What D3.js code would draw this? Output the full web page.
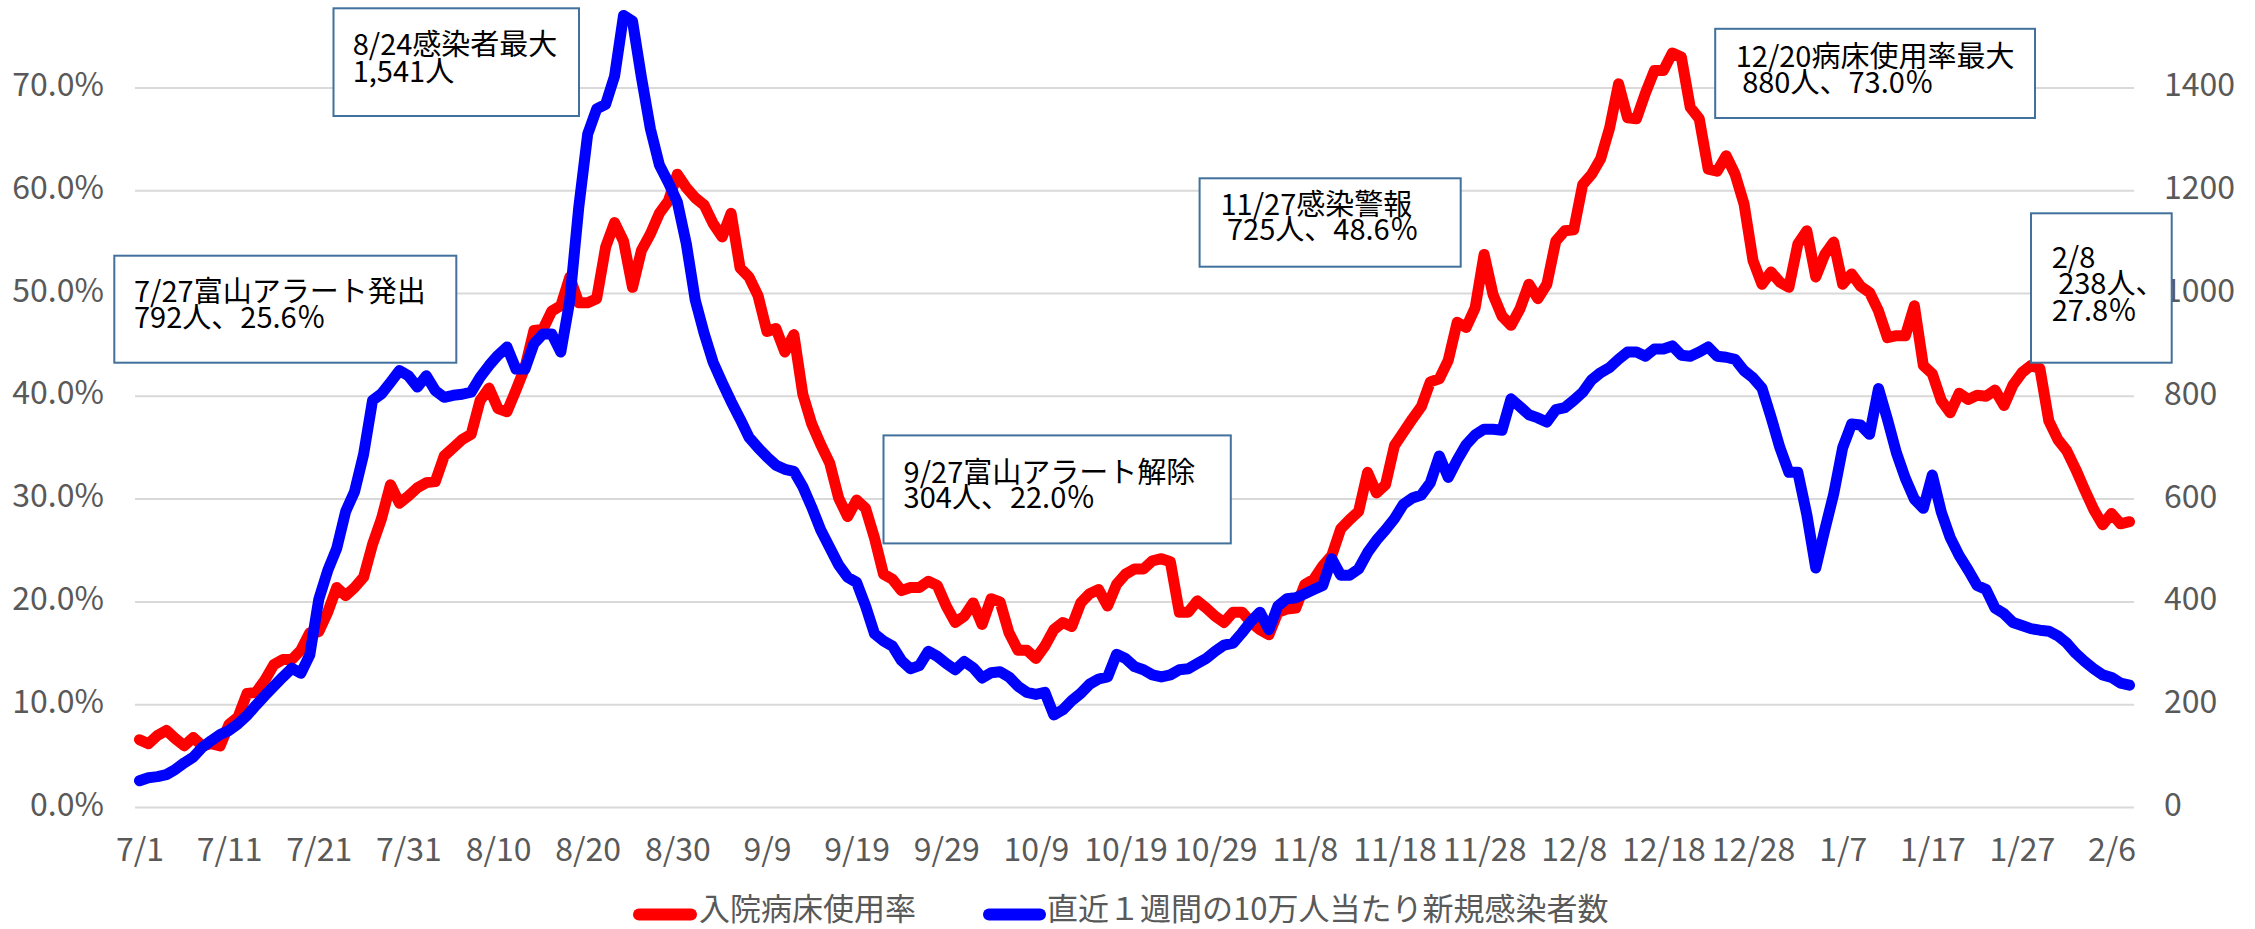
<!DOCTYPE html>
<html>
<head>
<meta charset="utf-8">
<script src="https://cdn.jsdelivr.net/npm/d3@7"></script>
<style>
  html, body { margin: 0; padding: 0; background: #ffffff; }
  svg { display: block; }
  text { font-family: "Noto Sans CJK JP", "Noto Sans", sans-serif; }
</style>
</head>
<body>
<svg id="chart" width="2255" height="929"></svg>
<script>
// ---------------- DATA ----------------
const startDate = new Date(2022, 6, 1);   // 7/1
const endDate = new Date(2023, 1, 9);     // exclusive -> last day 2/8

// 入院病床使用率 (%) — daily, 7/1 .. 2/8
const bedRate = [
  6.6, 6.2, 7.0, 7.5, 6.7, 6.0, 6.8, 6.0, 6.2, 6.0,
  8.1, 8.8, 11.1, 11.2, 12.4, 13.9, 14.4, 14.4, 15.3, 17.0,
  17.1, 19.0, 21.4, 20.6, 21.4, 22.4, 25.6, 28.1, 31.4, 29.6,
  30.3, 31.1, 31.6, 31.7, 34.2, 35.0, 35.8, 36.3, 39.6, 40.8,
  38.8, 38.5, 40.6, 42.8, 46.4, 46.5, 48.3, 48.8, 51.6, 49.1,
  49.1, 49.5, 54.5, 56.9, 55.1, 50.6, 54.2, 55.8, 57.8, 59.0,
  61.6, 60.3, 59.3, 58.6, 56.8, 55.5, 57.8, 52.5, 51.6, 49.8,
  46.3, 46.6, 44.3, 46.0, 40.2, 37.3, 35.3, 33.5, 30.1, 28.3,
  29.9, 29.1, 26.2, 22.7, 22.2, 21.1, 21.4, 21.4, 22.0, 21.6,
  19.6, 18.0, 18.6, 19.9, 17.8, 20.3, 20.0, 17.0, 15.3, 15.3,
  14.5, 15.7, 17.3, 18.0, 17.6, 19.9, 20.8, 21.2, 19.6, 21.7,
  22.7, 23.2, 23.2, 24.0, 24.2, 23.9, 19.0, 19.0, 20.1, 19.4,
  18.6, 18.0, 19.0, 19.0, 18.0, 17.3, 16.8, 19.0, 19.3, 19.4,
  21.7, 22.2, 23.5, 24.5, 27.1, 28.0, 28.8, 32.6, 30.6, 31.4,
  35.2, 36.5, 37.8, 39.0, 41.4, 41.7, 43.5, 47.2, 46.7, 48.6,
  53.8, 49.9, 47.8, 46.9, 48.5, 50.9, 49.5, 50.9, 55.1, 56.1,
  56.2, 60.6, 61.6, 63.1, 66.1, 70.4, 67.1, 67.0, 69.5, 71.7,
  71.7, 73.4, 73.0, 68.1, 67.0, 62.1, 61.9, 63.4, 61.6, 58.7,
  53.2, 50.9, 52.1, 51.1, 50.6, 54.8, 56.1, 51.6, 53.8, 55.0,
  50.9, 51.9, 50.7, 50.1, 48.3, 45.7, 45.9, 45.9, 48.8, 43.0,
  42.2, 39.6, 38.4, 40.3, 39.7, 40.1, 40.0, 40.6, 39.1, 41.1,
  42.3, 43.0, 42.7, 37.6, 35.8, 34.7, 32.9, 30.9, 29.0, 27.5,
  28.6, 27.6, 27.8
];

// 直近１週間の10万人当たり新規感染者数 — daily, 7/1 .. 2/8
const newCases = [
  52, 58, 60, 64, 74, 87, 98, 117, 130, 142,
  150, 163, 179, 199, 218, 236, 254, 271, 261, 297,
  405, 461, 504, 576, 615, 687, 792, 805, 827, 850,
  840, 818, 840, 811, 798, 802, 804, 808, 837, 860,
  880, 896, 853, 853, 902, 921, 921, 886, 986, 1167,
  1310, 1359, 1368, 1423, 1541, 1530, 1420, 1320, 1250, 1216,
  1178, 1097, 987, 922, 866, 827, 790, 756, 720, 700,
  682, 666, 658, 654, 624, 584, 540, 506, 472, 448,
  438, 392, 338, 324, 314, 286, 270, 276, 304, 294,
  280, 268, 284, 272, 252, 262, 264, 254, 236, 224,
  220, 224, 180, 190, 208, 222, 240, 250, 254, 298,
  290, 274, 268, 258, 254, 258, 268, 270, 280, 290,
  304, 316, 320, 340, 362, 380, 346, 392, 406, 408,
  416, 424, 432, 484, 452, 452, 464, 496, 520, 540,
  562, 590, 602, 608, 632, 684, 642, 676, 706, 725,
  736, 736, 734, 795, 780, 764, 758, 750, 774, 778,
  792, 808, 832, 846, 856, 872, 886, 886, 878, 892,
  892, 898, 880, 878, 886, 896, 878, 876, 872, 850,
  836, 816, 760, 700, 652, 652, 570, 466, 540, 610,
  700, 746, 744, 726, 815, 755, 690, 640, 600, 582,
  647, 575, 525, 490, 462, 432, 424, 388, 377, 360,
  354, 348, 345, 343, 334, 320, 300, 284, 270, 258,
  253, 242, 238
];

const xTickLabels = ["7/1","7/11","7/21","7/31","8/10","8/20","8/30","9/9","9/19","9/29",
  "10/9","10/19","10/29","11/8","11/18","11/28","12/8","12/18","12/28","1/7","1/17","1/27","2/6"];
const leftTicks = [0, 0.1, 0.2, 0.3, 0.4, 0.5, 0.6, 0.7];
const rightTicks = [0, 200, 400, 600, 800, 1000, 1200, 1400];

const seriesNames = ["入院病床使用率", "直近１週間の10万人当たり新規感染者数"];

const annotationTexts = [
  ["8/24感染者最大", "1,541人"],
  ["7/27富山アラート発出", "792人、25.6％"],
  ["9/27富山アラート解除", "304人、22.0％"],
  ["11/27感染警報", "\u00a0725人、48.6％"],
  ["12/20病床使用率最大", "\u00a0880人、73.0％"],
  ["2/8", "\u00a0238人、", "27.8％"]
];

// ---------------- LAYOUT ----------------
const W = 2255, H = 929;
const plot = { left: 135, right: 2134, bottom: 807.5, unit: 102.8 };
const colors = { red: "#ff0000", blue: "#0000ff", grid: "#d9d9d9", axisText: "#595959", boxStroke: "#41719c" };
const annotationBoxes = [
  { x: 333.5, y: 8.3, w: 245.5, h: 107.7, tx: 352.7, base: 55, lh: 26.7 },
  { x: 114.3, y: 255.7, w: 342, h: 107, tx: 134, base: 301.7, lh: 26.6 },
  { x: 883.5, y: 435.4, w: 347.3, h: 108, tx: 903.6, base: 482.7, lh: 25.3 },
  { x: 1199.6, y: 178.3, w: 261.1, h: 88.4, tx: 1220.5, base: 215, lh: 25 },
  { x: 1715.2, y: 28.8, w: 319.8, h: 89.2, tx: 1735.7, base: 66.7, lh: 26 },
  { x: 2031, y: 213.3, w: 140.7, h: 149.4, tx: 2051.7, base: 267.7, lh: 26.5 }
];

// ---------------- SCALES ----------------
const categories = d3.timeDay.range(startDate, endDate);
const fmt = d3.timeFormat("%-m/%-d");
const catLabels = categories.map(fmt);

const x = d3.scalePoint().domain(catLabels).range([plot.left, plot.right]).padding(0.5);
const yL = d3.scaleLinear().domain([0, 0.8]).range([plot.bottom, plot.bottom - 8 * plot.unit]);
const yR = d3.scaleLinear().domain([0, 1600]).range([plot.bottom, plot.bottom - 8 * plot.unit]);

const svg = d3.select("#chart");

// gridlines
svg.append("g").selectAll("line").data(leftTicks).join("line")
  .attr("x1", plot.left).attr("x2", plot.right)
  .attr("y1", d => yL(d)).attr("y2", d => yL(d))
  .attr("stroke", colors.grid).attr("stroke-width", 2);

// left axis
const gL = svg.append("g").attr("transform", `translate(${plot.left},0)`)
  .call(d3.axisLeft(yL).tickValues(leftTicks).tickFormat(d3.format(".1%")).tickSize(0).tickPadding(31));
gL.select(".domain").remove();
gL.selectAll("text").attr("fill", colors.axisText).attr("font-size", 32)
  .attr("font-family", '"Noto Sans CJK JP", sans-serif').attr("dy", "0.24em");

// right axis
const gR = svg.append("g").attr("transform", `translate(${plot.right},0)`)
  .call(d3.axisRight(yR).tickValues(rightTicks).tickFormat(d3.format("d")).tickSize(0).tickPadding(30));
gR.select(".domain").remove();
gR.selectAll("text").attr("fill", colors.axisText).attr("font-size", 32)
  .attr("font-family", '"Noto Sans CJK JP", sans-serif').attr("dy", "0.25em");

// bottom axis
const tickCats = catLabels.filter(d => xTickLabels.includes(d));
const gB = svg.append("g").attr("transform", `translate(0,${plot.bottom})`)
  .call(d3.axisBottom(x).tickValues(tickCats).tickSize(0));
gB.select(".domain").remove();
gB.selectAll("text").attr("fill", colors.axisText).attr("font-size", 32)
  .attr("font-family", '"Noto Sans CJK JP", sans-serif').attr("y", 53).attr("dy", 0);

// lines
const lineRed = d3.line().x((d, i) => x(catLabels[i])).y(d => yL(d / 100));
const lineBlue = d3.line().x((d, i) => x(catLabels[i])).y(d => yR(d));

svg.append("path").datum(bedRate).attr("d", lineRed)
  .attr("fill", "none").attr("stroke", colors.red).attr("stroke-width", 11)
  .attr("stroke-linejoin", "round").attr("stroke-linecap", "round");
svg.append("path").datum(newCases).attr("d", lineBlue)
  .attr("fill", "none").attr("stroke", colors.blue).attr("stroke-width", 11)
  .attr("stroke-linejoin", "round").attr("stroke-linecap", "round");

// annotations (one text element per box, lines as tspans)
annotationBoxes.forEach((b, k) => {
  const g = svg.append("g");
  g.append("rect").attr("x", b.x).attr("y", b.y).attr("width", b.w).attr("height", b.h)
    .attr("fill", "#ffffff").attr("stroke", colors.boxStroke).attr("stroke-width", 2);
  const t = g.append("text").attr("font-size", 29).attr("fill", "#000000");
  annotationTexts[k].forEach((line, j) => {
    t.append("tspan").attr("x", b.tx).attr("y", b.base + j * b.lh).text(line);
  });
});

// legend
const legendItems = [
  { name: seriesNames[0], color: colors.red, x1: 639, x2: 691, tx: 699 },
  { name: seriesNames[1], color: colors.blue, x1: 989, x2: 1040, tx: 1047 }
];
const gLeg = svg.append("g");
legendItems.forEach(it => {
  gLeg.append("line").attr("x1", it.x1).attr("x2", it.x2).attr("y1", 914.5).attr("y2", 914.5)
    .attr("stroke", it.color).attr("stroke-width", 12).attr("stroke-linecap", "round");
  gLeg.append("text").attr("x", it.tx).attr("y", 920).attr("font-size", 31)
    .attr("fill", colors.axisText).text(it.name);
});
</script>
</body>
</html>
